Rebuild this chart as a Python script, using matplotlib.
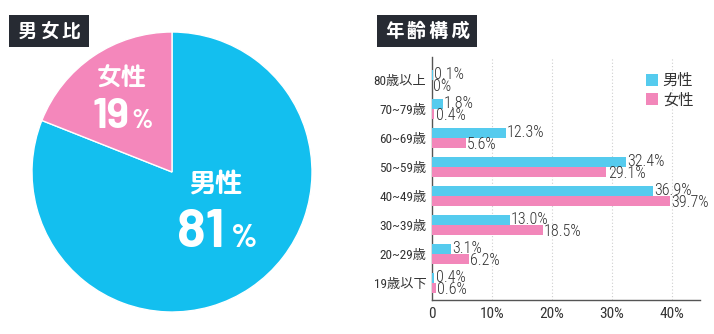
import matplotlib
matplotlib.use("Agg")
import matplotlib.pyplot as plt
from matplotlib.patches import Rectangle
from matplotlib import font_manager

W, H = 714, 334
DPI = 100

# ---- data ----
gender_labels = ["男性", "女性"]
gender_share = [81, 19]

age_groups = ["80歳以上", "70~79歳", "60~69歳", "50~59歳", "40~49歳", "30~39歳", "20~29歳", "19歳以下"]
male_pct = [0.1, 1.8, 12.3, 32.4, 36.9, 13.0, 3.1, 0.4]
female_pct = [0.0, 0.4, 5.6, 29.1, 39.7, 18.5, 6.2, 0.6]
male_text = ["0.1%", "1.8%", "12.3%", "32.4%", "36.9%", "13.0%", "3.1%", "0.4%"]
female_text = ["0%", "0.4%", "5.6%", "29.1%", "39.7%", "18.5%", "6.2%", "0.6%"]
x_ticks = [0, 10, 20, 30, 40]
x_tick_labels = ["0", "10%", "20%", "30%", "40%"]

PIE_BLUE = "#13bfef"
PIE_PINK = "#f487bb"
BAR_BLUE = "#55cbee"
BAR_PINK = "#f287ba"
DARK = "#272b33"
TXT = "#333333"

installed = {f.name for f in font_manager.fontManager.ttflist}


def pick(*cands):
    return [c for c in cands if c in installed] + ["DejaVu Sans"]


COND = pick("Roboto Condensed", "Barlow Condensed")[0]
CJK = "Noto Sans CJK JP"
ROUND = pick("Rounded Mplus 1c Bold", "Rounded Mplus 1c", CJK)[0]
NUM = pick("Barlow", "Roboto")[0]
MIX = [COND, CJK, "DejaVu Sans"]
HEAD = [ROUND, CJK, "DejaVu Sans"]

fig = plt.figure(figsize=(W / DPI, H / DPI), dpi=DPI)
fig.patch.set_facecolor("white")


def fx(px):
    return px / W


def fy(py):
    return 1 - py / H


def rect_px(left, top, right, bottom):
    return [fx(left), fy(bottom), (right - left) / W, (bottom - top) / H]


# ---- section headers (dark box, widely spaced white characters) ----
def header(left, top, right, bottom, text, first_center, pitch):
    fig.patches.append(Rectangle((fx(left), fy(bottom)), (right - left) / W, (bottom - top) / H,
                                 transform=fig.transFigure, facecolor=DARK, edgecolor="none"))
    for k, ch in enumerate(text):
        fig.text(fx(first_center + k * pitch), fy((top + bottom) / 2 + 1), ch,
                 color="white", fontsize=13.5, fontweight="bold", family=HEAD,
                 ha="center", va="center")


# ---- pie chart ----
cx, cy, r = 172, 172, 140
ax_pie = fig.add_axes(rect_px(cx - r, cy - r, cx + r, cy + r))
ax_pie.pie(gender_share, colors=[PIE_BLUE, PIE_PINK], startangle=90, counterclock=False,
           radius=1.0, wedgeprops=dict(edgecolor="white", linewidth=1.0))
ax_pie.set_xlim(-1, 1)
ax_pie.set_ylim(-1, 1)
ax_pie.set_aspect("equal")
ax_pie.axis("off")

header(9, 15, 89, 47, "男女比", 27, 22)

# labels inside the pie
fig.text(fx(122), fy(80), gender_labels[1], color="white", fontsize=18, fontweight="bold",
         family=HEAD, ha="center", va="center")
fig.text(fx(129), fy(128), f"{gender_share[1]}", color="white", fontsize=30, fontweight="bold",
         family=[NUM, "DejaVu Sans"], ha="right", va="baseline")
fig.text(fx(131), fy(128), "%", color="white", fontsize=18.5, fontweight="bold",
         family=[NUM, "DejaVu Sans"], ha="left", va="baseline")

fig.text(fx(216), fy(185), gender_labels[0], color="white", fontsize=19.5, fontweight="bold",
         family=HEAD, ha="center", va="center")
fig.text(fx(224), fy(247), f"{gender_share[0]}", color="white", fontsize=38, fontweight="bold",
         family=[NUM, "DejaVu Sans"], ha="right", va="baseline")
fig.text(fx(231), fy(247), "%", color="white", fontsize=23, fontweight="bold",
         family=[NUM, "DejaVu Sans"], ha="left", va="baseline")

# ---- age composition bar chart ----
header(377, 15, 477, 47, "年齢構成", 394.5, 21.5)

ax = fig.add_axes(rect_px(432, 57, 700, 300))
n = len(age_groups)
pos = list(range(n))
bh = 0.36
male_y = [p - bh / 2 for p in pos]
female_y = [p + bh / 2 for p in pos]
ax.barh(male_y, male_pct, height=bh, color=BAR_BLUE, label=gender_labels[0], zorder=3)
ax.barh(female_y, female_pct, height=bh, color=BAR_PINK, label=gender_labels[1], zorder=3)

for y, v, t in zip(male_y, male_pct, male_text):
    ax.text(v + 0.2, y + 0.0, t, fontsize=11.5, color=TXT, family=MIX, fontweight="light",
            ha="left", va="center", zorder=4)
for y, v, t in zip(female_y, female_pct, female_text):
    ax.text(v + 0.2, y + 0.06, t, fontsize=11.5, color=TXT, family=MIX, fontweight="light",
            ha="left", va="center", zorder=4)

ax.set_xlim(0, 44.7)
ax.set_ylim(7.586, -0.793)
ax.set_yticks(pos)
ax.set_yticklabels(age_groups, family=MIX, fontsize=9.5, color=TXT)
ax.set_xticks(x_ticks)
ax.set_xticklabels(x_tick_labels, family=MIX, fontsize=11, color=TXT)
ax.tick_params(axis="both", length=0)
ax.tick_params(axis="y", pad=4)
ax.tick_params(axis="x", pad=5)

for x in x_ticks[1:]:
    ax.axvline(x, color="#cfcfcf", linewidth=0.8, linestyle=(0, (1, 2)), zorder=1)

for side in ("top", "right"):
    ax.spines[side].set_visible(False)
for side in ("left", "bottom"):
    ax.spines[side].set_color("#555555")
    ax.spines[side].set_linewidth(1.0)
ax.set_facecolor("none")

leg = ax.legend(loc="upper left", bbox_to_anchor=((646 - 432) / 268, 1 - (72 - 57) / 243),
                frameon=False, prop=dict(family=[CJK, "DejaVu Sans"], size=11),
                handlelength=0.8, handleheight=0.8, handletextpad=0.3, labelspacing=0.15,
                borderaxespad=0, borderpad=0)
for t in leg.get_texts():
    t.set_color(TXT)

fig.savefig("out.png", dpi=DPI, facecolor="white")
